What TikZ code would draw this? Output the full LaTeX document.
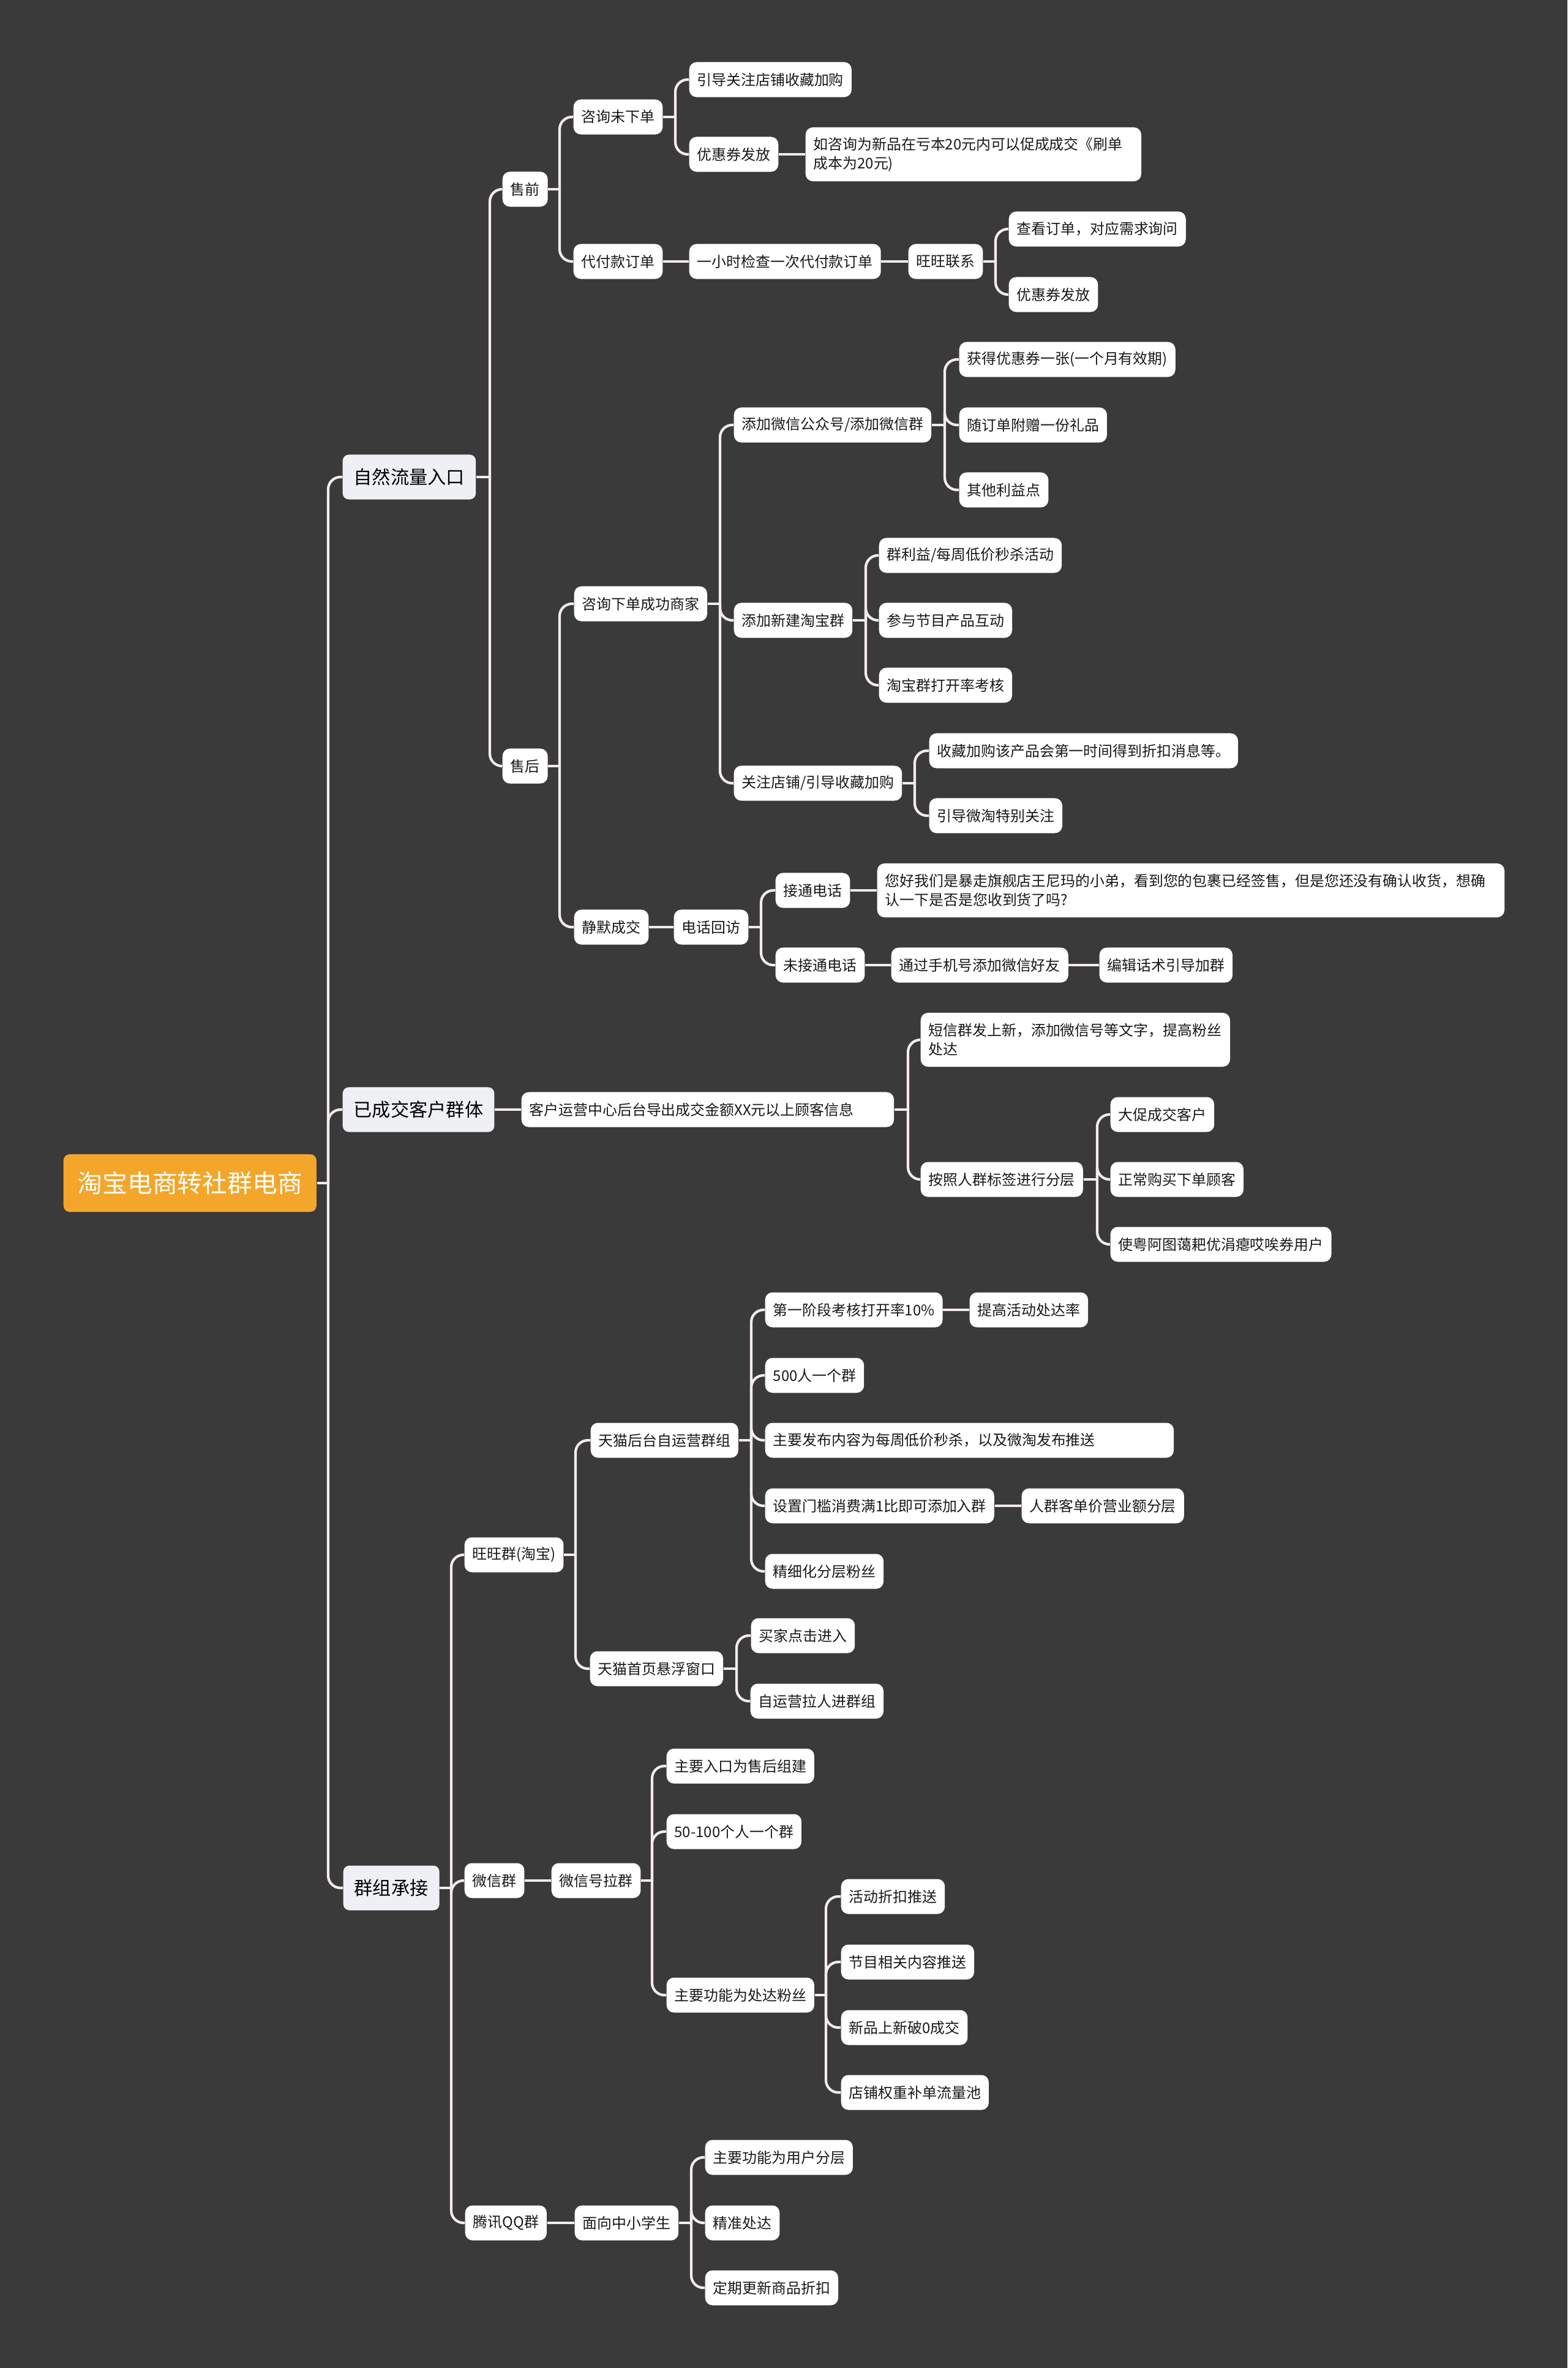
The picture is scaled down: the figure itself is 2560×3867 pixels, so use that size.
\documentclass[tikz,border=0pt]{standalone}
\usepackage{fontspec}
\newfontfamily\cjk{Noto Sans CJK SC}
\usepackage{xcolor}
\usepackage{tikz}
\usetikzlibrary{calc}
\definecolor{bg}{HTML}{3A3A3A}
\definecolor{rootfill}{HTML}{F3A62A}
\definecolor{topicfill}{HTML}{EEF0F4}
\definecolor{linkcol}{HTML}{F5EBEB}

\begin{document}
\begin{tikzpicture}[x=0.01cm, y=-0.01cm,
    root/.style={anchor=west, rounded corners=0.1cm, fill=rootfill, text=white, minimum height=0.94cm, inner xsep=0.23cm, font=\cjk\fontsize{11.6pt}{14pt}\selectfont},
    topic/.style={anchor=west, rounded corners=0.1cm, fill=topicfill, text=black, minimum height=0.73cm, inner xsep=0.18cm, font=\cjk\fontsize{8.6pt}{10pt}\selectfont},
    leaf/.style={anchor=west, rounded corners=0.12cm, fill=white, text=black!90, minimum height=0.57cm, inner xsep=0.13cm, font=\cjk\fontsize{6.8pt}{8.8pt}\selectfont},
    wide/.style={leaf, text width=#1, align=left},
    twoline/.style={wide=#1, minimum height=0.88cm},
    link/.style={draw=linkcol, line width=1.2pt, rounded corners=0.2cm}]
    \fill[bg] (0,0) rectangle (2560,3867);
    \useasboundingbox (0,0) rectangle (2560,3867);

    % root
    \node[root] (root) at (103,1932) {淘宝电商转社群电商};
    \node[topic] (nat) at (559,779) {自然流量入口};
    \node[topic] (deal) at (559,1812) {已成交客户群体};
    \node[topic] (grp) at (560,3083) {群组承接};
    \coordinate (j0) at (536,1932);
    \draw[link] (root.east) -- (j0);
    \foreach \c in {nat,deal,grp} \draw[link] (j0) |- (\c.west);

    % natural traffic
    \node[leaf] (pre) at (820,309) {售前};
    \node[leaf] (post) at (820,1251) {售后};
    \coordinate (jnat) at (800,779);
    \draw[link] (nat.east) -- (jnat);
    \foreach \c in {pre,post} \draw[link] (jnat) |- (\c.west);

    % before sale
    \node[leaf] (ask) at (936,191) {咨询未下单};
    \node[leaf] (pay) at (936,427) {代付款订单};
    \coordinate (jpre) at (914,309);
    \draw[link] (pre.east) -- (jpre);
    \foreach \c in {ask,pay} \draw[link] (jpre) |- (\c.west);

    \node[leaf] (guide) at (1125,130) {引导关注店铺收藏加购};
    \node[leaf] (coupA) at (1125,252) {优惠券发放};
    \node[twoline=5.22cm] (note) at (1315,252) {如咨询为新品在亏本20元内可以促成成交《刷单\\成本为20元)};
    \coordinate (jask) at (1103,191);
    \draw[link] (ask.east) -- (jask);
    \foreach \c in {guide,coupA} \draw[link] (jask) |- (\c.west);
    \draw[link] (coupA.east) -- (note.west);

    \node[leaf] (check) at (1125,427) {一小时检查一次代付款订单};
    \node[leaf] (ww) at (1483,427) {旺旺联系};
    \node[leaf] (look) at (1647,374) {查看订单，对应需求询问};
    \node[leaf] (coupB) at (1647,481) {优惠券发放};
    \draw[link] (pay.east) -- (check.west);
    \draw[link] (check.east) -- (ww.west);
    \coordinate (jww) at (1626,427);
    \draw[link] (ww.east) -- (jww);
    \foreach \c in {look,coupB} \draw[link] (jww) |- (\c.west);

    % after sale
    \node[leaf] (succ) at (937,986) {咨询下单成功商家};
    \node[leaf] (silent) at (937,1514) {静默成交};
    \coordinate (jpost) at (914,1251);
    \draw[link] (post.east) -- (jpost);
    \foreach \c in {succ,silent} \draw[link] (jpost) |- (\c.west);

    \node[leaf] (wx) at (1198,694) {添加微信公众号/添加微信群};
    \node[leaf] (tb) at (1198,1013) {添加新建淘宝群};
    \node[leaf] (fav) at (1198,1279) {关注店铺/引导收藏加购};
    \coordinate (jsucc) at (1176,986);
    \draw[link] (succ.east) -- (jsucc);
    \foreach \c in {wx,tb,fav} \draw[link] (jsucc) |- (\c.west);

    \node[leaf] (get) at (1566,587) {获得优惠券一张(一个月有效期)};
    \node[leaf] (gift) at (1566,694) {随订单附赠一份礼品};
    \node[leaf] (other) at (1566,800) {其他利益点};
    \coordinate (jwx) at (1543,694);
    \draw[link] (wx.east) -- (jwx);
    \foreach \c in {get,gift,other} \draw[link] (jwx) |- (\c.west);

    \node[leaf] (flash) at (1435,907) {群利益/每周低价秒杀活动};
    \node[leaf] (join) at (1435,1013) {参与节目产品互动};
    \node[leaf] (rate) at (1435,1119) {淘宝群打开率考核};
    \coordinate (jtb) at (1414,1013);
    \draw[link] (tb.east) -- (jtb);
    \foreach \c in {flash,join,rate} \draw[link] (jtb) |- (\c.west);

    \node[leaf] (favmsg) at (1517,1226) {收藏加购该产品会第一时间得到折扣消息等。};
    \node[leaf] (wt) at (1517,1332) {引导微淘特别关注};
    \coordinate (jfav) at (1494,1279);
    \draw[link] (fav.east) -- (jfav);
    \foreach \c in {favmsg,wt} \draw[link] (jfav) |- (\c.west);

    \node[leaf] (call) at (1100,1514) {电话回访};
    \node[leaf] (ok) at (1266,1454) {接通电话};
    \node[twoline=9.98cm] (script) at (1432,1454) {您好我们是暴走旗舰店王尼玛的小弟，看到您的包裹已经签售，但是您还没有确认收货，想确\\认一下是否是您收到货了吗?};
    \node[leaf] (miss) at (1266,1576) {未接通电话};
    \node[leaf] (addwx) at (1455,1576) {通过手机号添加微信好友};
    \node[leaf] (edit) at (1795,1576) {编辑话术引导加群};
    \draw[link] (silent.east) -- (call.west);
    \coordinate (jcall) at (1243,1514);
    \draw[link] (call.east) -- (jcall);
    \foreach \c in {ok,miss} \draw[link] (jcall) |- (\c.west);
    \draw[link] (ok.east) -- (script.west);
    \draw[link] (miss.east) -- (addwx.west);
    \draw[link] (addwx.east) -- (edit.west);

    % customers with deals
    \node[wide=5.82cm] (export) at (851,1812) {客户运营中心后台导出成交金额XX元以上顾客信息};
    \draw[link] (deal.east) -- (export.west);
    \node[twoline=4.79cm] (sms) at (1503,1698) {短信群发上新，添加微信号等文字，提高粉丝\\处达};
    \node[leaf] (tag) at (1503,1926) {按照人群标签进行分层};
    \coordinate (jexp) at (1483,1812);
    \draw[link] (export.east) -- (jexp);
    \foreach \c in {sms,tag} \draw[link] (jexp) |- (\c.west);

    \node[leaf] (big) at (1813,1820) {大促成交客户};
    \node[leaf] (norm) at (1813,1926) {正常购买下单顾客};
    \node[leaf] (odd) at (1813,2032) {使粤阿图蔼耙优涓瘪哎唉券用户};
    \coordinate (jtag) at (1792,1926);
    \draw[link] (tag.east) -- (jtag);
    \foreach \c in {big,norm,odd} \draw[link] (jtag) |- (\c.west);

    % groups
    \node[leaf] (wwq) at (758,2539) {旺旺群(淘宝)};
    \node[leaf] (wxq) at (758,3071) {微信群};
    \node[leaf] (qq) at (759,3630) {腾讯QQ群};
    \coordinate (jgrp) at (737,3083);
    \draw[link] (grp.east) -- (jgrp);
    \foreach \c in {wwq,wxq,qq} \draw[link] (jgrp) |- (\c.west);

    \node[leaf] (tmall) at (964,2352) {天猫后台自运营群组};
    \node[leaf] (float) at (963,2725) {天猫首页悬浮窗口};
    \coordinate (jwwq) at (940,2539);
    \draw[link] (wwq.east) -- (jwwq);
    \foreach \c in {tmall,float} \draw[link] (jwwq) |- (\c.west);

    \node[leaf] (s1) at (1249,2139) {第一阶段考核打开率10\%};
    \node[leaf] (s1b) at (1583,2139) {提高活动处达率};
    \node[leaf] (s2) at (1249,2246) {500人一个群};
    \node[wide=6.41cm] (s3) at (1249,2352) {主要发布内容为每周低价秒杀，以及微淘发布推送};
    \node[leaf] (s4) at (1249,2459) {设置门槛消费满1比即可添加入群};
    \node[leaf] (s4b) at (1668,2459) {人群客单价营业额分层};
    \node[leaf] (s5) at (1249,2566) {精细化分层粉丝};
    \coordinate (jtmall) at (1227,2352);
    \draw[link] (tmall.east) -- (jtmall);
    \foreach \c in {s1,s2,s3,s4,s5} \draw[link] (jtmall) |- (\c.west);
    \draw[link] (s1.east) -- (s1b.west);
    \draw[link] (s4.east) -- (s4b.west);

    \node[leaf] (buy) at (1226,2671) {买家点击进入};
    \node[leaf] (pull) at (1225,2778) {自运营拉人进群组};
    \coordinate (jfloat) at (1203,2725);
    \draw[link] (float.east) -- (jfloat);
    \foreach \c in {buy,pull} \draw[link] (jfloat) |- (\c.west);

    \node[leaf] (pullq) at (900,3071) {微信号拉群};
    \draw[link] (wxq.east) -- (pullq.west);
    \node[leaf] (w1) at (1088,2884) {主要入口为售后组建};
    \node[leaf] (w2) at (1088,2991) {50-100个人一个群};
    \node[leaf] (w3) at (1088,3258) {主要功能为处达粉丝};
    \coordinate (jpull) at (1065,3071);
    \draw[link] (pullq.east) -- (jpull);
    \foreach \c in {w1,w2,w3} \draw[link] (jpull) |- (\c.west);

    \node[leaf] (w3a) at (1373,3097) {活动折扣推送};
    \node[leaf] (w3b) at (1373,3204) {节目相关内容推送};
    \node[leaf] (w3c) at (1373,3311) {新品上新破0成交};
    \node[leaf] (w3d) at (1373,3417) {店铺权重补单流量池};
    \coordinate (jw3) at (1349,3258);
    \draw[link] (w3.east) -- (jw3);
    \foreach \c in {w3a,w3b,w3c,w3d} \draw[link] (jw3) |- (\c.west);

    \node[leaf] (kids) at (938,3630) {面向中小学生};
    \draw[link] (qq.east) -- (kids.west);
    \node[leaf] (q1) at (1151,3523) {主要功能为用户分层};
    \node[leaf] (q2) at (1151,3630) {精准处达};
    \node[leaf] (q3) at (1151,3736) {定期更新商品折扣};
    \coordinate (jkids) at (1129,3630);
    \draw[link] (kids.east) -- (jkids);
    \foreach \c in {q1,q2,q3} \draw[link] (jkids) |- (\c.west);
\end{tikzpicture}
\end{document}
